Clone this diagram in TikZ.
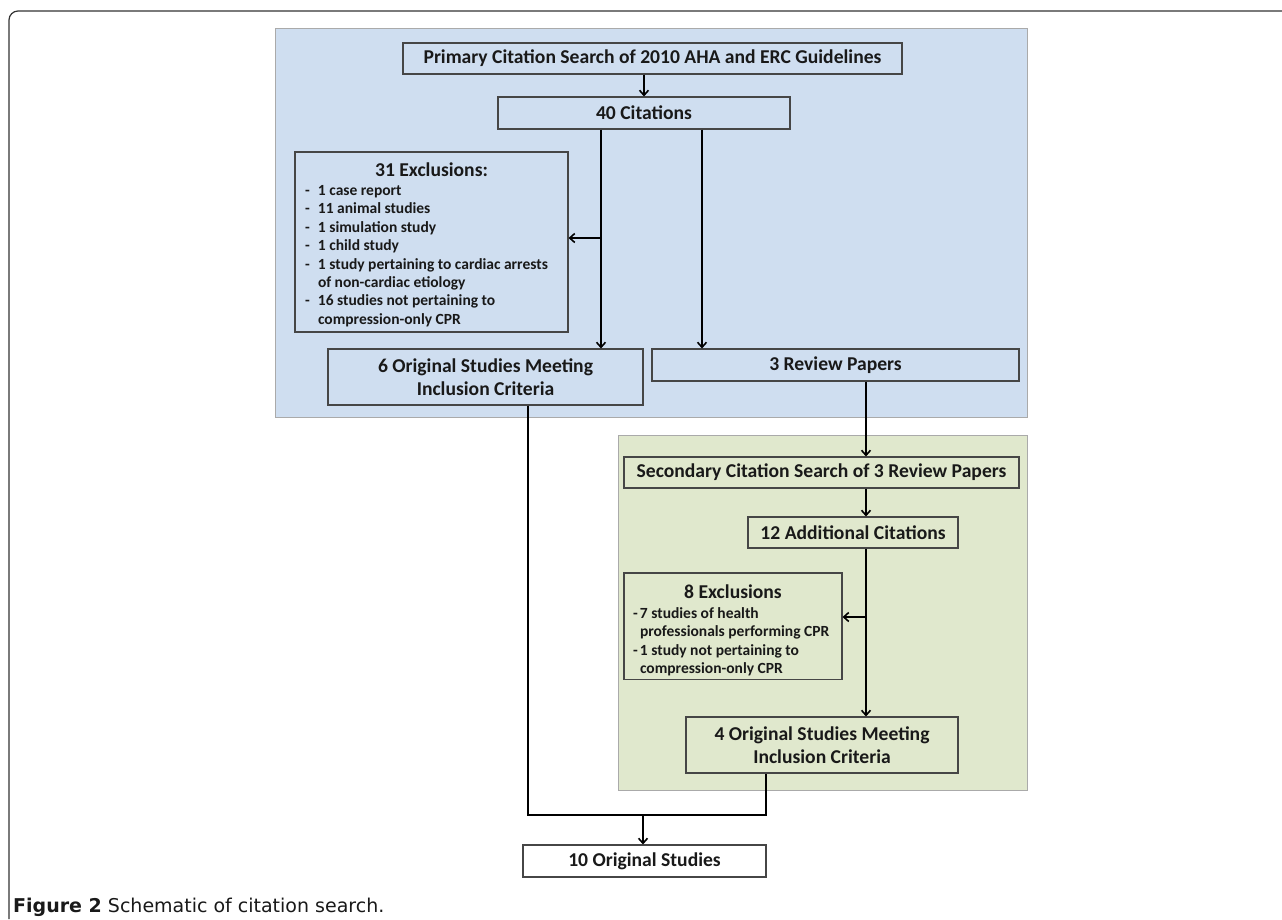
\documentclass[tikz,border=0pt]{standalone}
\usepackage{fontspec}
\setmainfont{Carlito}
\newfontfamily\capfont{DejaVu Sans}
\usetikzlibrary{arrows.meta}
\definecolor{panelblue}{RGB}{207,222,240}
\definecolor{panelgreen}{RGB}{224,232,205}
\definecolor{panelline}{RGB}{170,170,170}
\definecolor{boxline}{RGB}{70,70,70}
\definecolor{textdark}{RGB}{25,25,25}
\newcommand{\boxfont}{\fontsize{19.6}{23}\selectfont\bfseries}
\newcommand{\listfont}{\fontsize{15.5}{18.4}\selectfont\bfseries}
\tikzset{
    flowbox/.style={draw=boxline, line width=1.1pt, text=textdark, inner sep=0pt, align=center, font=\boxfont},
    listbox/.style={flowbox, font=\listfont},
    conn/.style={line width=1.8pt, black},
    arr/.style={conn, -{Straight Barb[length=5pt,width=9pt,line width=1.6pt]}},
    panel/.style={draw=panelline, line width=1pt}
}
\begin{document}
\begin{tikzpicture}[x=1pt, y=-1pt]
    \useasboundingbox (0,0) rectangle (1282,919);
    \draw[line width=1.2pt, rounded corners=9pt, black!80] (1282,11) -- (9,11) -- (9,919);

    \draw[panel, fill=panelblue] (275,28) rectangle (1027,417);
    \draw[panel, fill=panelgreen] (618,435) rectangle (1027,790);

    \node[flowbox, minimum width=499pt, minimum height=31pt] (prim) at (652.5,58.5) {Primary Citation Search of 2010 AHA and ERC Guidelines};
    \node[flowbox, minimum width=292pt, minimum height=32pt] (cit) at (644,113) {40 Citations};
    \node[listbox, minimum width=273pt, minimum height=180pt] (excl) at (431.5,242) {%
        \begin{tabular}{@{}p{13pt}@{}p{240pt}@{}}
        \multicolumn{2}{@{}c@{}}{\rule{0pt}{22pt}\boxfont 31 Exclusions:}\\[1pt]
        - & 1 case report\\
        - & 11 animal studies\\
        - & 1 simulation study\\
        - & 1 child study\\
        - & 1 study pertaining to cardiac arrests\\
          & of non-cardiac etiology\\
        - & 16 studies not pertaining to\\
          & compression-only CPR
        \end{tabular}};
    \node[flowbox, minimum width=315pt, minimum height=56pt] (orig6) at (485.5,377) {6 Original Studies Meeting\\Inclusion Criteria};
    \node[flowbox, minimum width=367pt, minimum height=32pt] (rev) at (835.5,365) {3 Review Papers};

    \node[flowbox, minimum width=395pt, minimum height=31pt] (sec) at (821.5,472.5) {Secondary Citation Search of 3 Review Papers};
    \node[flowbox, minimum width=210pt, minimum height=31pt] (add) at (853,532.5) {12 Additional Citations};
    \node[listbox, minimum width=218pt, minimum height=106pt] (excl8) at (733,626) {%
        \begin{tabular}{@{}p{7pt}@{}p{193pt}@{}}
        \multicolumn{2}{@{}c@{}}{\rule{0pt}{26pt}\boxfont 8 Exclusions}\\[1pt]
        - & 7 studies of health\\
          & professionals performing CPR\\
        - & 1 study not pertaining to\\
          & compression-only CPR
        \end{tabular}};
    \node[flowbox, minimum width=272pt, minimum height=56pt] (orig4) at (822,745) {4 Original Studies Meeting\\Inclusion Criteria};

    \node[flowbox, fill=white, minimum width=243pt, minimum height=32pt] (final) at (644.5,861) {10 Original Studies};

    \coordinate (c1) at (601,0);
    \coordinate (c2) at (702,0);
    \coordinate (c3) at (866,0);
    \coordinate (b1) at (601,238);
    \coordinate (b2) at (866,617);
    \coordinate (jn) at (643,815);

    \draw[arr] (cit.north |- prim.south) -- (cit.north);
    \draw[arr] (c1 |- cit.south) -- (c1 |- orig6.north);
    \draw[arr] (b1) -- (b1 -| excl.east);
    \draw[arr] (c2 |- cit.south) -- (c2 |- rev.north);
    \draw[arr] (c3 |- rev.south) -- (c3 |- sec.north);
    \draw[arr] (c3 |- sec.south) -- (c3 |- add.north);
    \draw[arr] (c3 |- add.south) -- (c3 |- orig4.north);
    \draw[arr] (b2) -- (b2 -| excl8.east);
    \draw[conn] ([xshift=42.5pt]orig6.south) |- (jn) -| ([xshift=-56pt]orig4.south);
    \draw[arr] (jn) -- (jn |- final.north);

    \node[anchor=base west, inner sep=0pt, font=\capfont\fontsize{19}{22}\selectfont, text=textdark] (cap) at (13,912) {\textbf{Figure 2} Schematic of citation search.};
\end{tikzpicture}
\end{document}
